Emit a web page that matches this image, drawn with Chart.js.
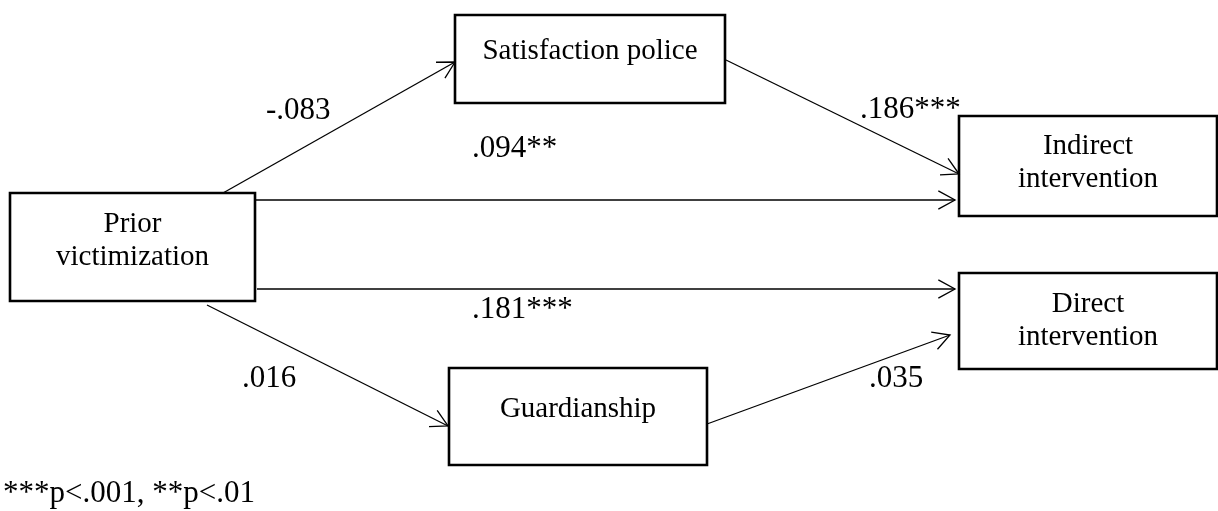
<!DOCTYPE html>
<html>
<head>
<meta charset="utf-8">
<script src="https://cdn.jsdelivr.net/npm/chart.js@4"></script>
<style>
html,body{margin:0;padding:0;background:#fff;overflow:hidden}
#c{display:block}
</style>
</head>
<body>
<canvas id="c" width="1218" height="511"></canvas>
<script>
// variables in the path model
const nodeNames = [['Prior','victimization'], ['Satisfaction police'], ['Indirect','intervention'], ['Direct','intervention'], ['Guardianship']];
// path coefficients (from -> to)
const pathFrom = [0, 1, 0, 0, 0, 4];
const pathTo   = [1, 2, 2, 3, 4, 3];
const pathCoef = ['-.083', '.186***', '.094**', '.181***', '.016', '.035'];
const footnote = '***p<.001, **p<.01';

// layout, in the chart's own x/y units
const boxL = [10, 455, 959, 959, 449];
const boxT = [193, 15, 116, 273, 368];
const boxR = [255, 725, 1217, 1217, 707];
const boxB = [301, 103, 216, 369, 465];
const textY = [[232, 265], [59], [154, 187], [312, 345], [417]];
const pathStart = [[223,193], [726,60], [255,200], [257,289], [207,305], [707,424]];
const pathEnd   = [[455,62], [959,174], [955,200], [955,289], [448,426], [950,335]];
const coefPos   = [[266,119], [860,118], [472,157], [472,318], [242,387], [869,387]];

const SERIF = '"Liberation Serif", "Times New Roman", serif';

const datasets = [];
boxL.forEach((l, i) => {
  datasets.push({ data: [{x:l,y:boxT[i]},{x:boxR[i],y:boxT[i]},{x:boxR[i],y:boxB[i]},{x:l,y:boxB[i]},{x:l,y:boxT[i]},{x:boxR[i],y:boxT[i]}],
    showLine:true, borderColor:'#000', borderWidth:2.6, borderJoinStyle:'miter', borderCapStyle:'square',
    pointRadius:0, fill:false, tension:0 });
});
pathFrom.forEach((f, i) => {
  datasets.push({ data: [{x:pathStart[i][0],y:pathStart[i][1]},{x:pathEnd[i][0],y:pathEnd[i][1]}],
    showLine:true, borderColor:'#000', borderWidth:1.3, pointRadius:0, fill:false });
});

const textPlugin = {
  id:'diagramText',
  afterDatasetsDraw(chart){
    const {ctx, scales:{x, y}} = chart;
    ctx.save();
    // arrow heads
    ctx.strokeStyle = '#000'; ctx.lineWidth = 1.3;
    pathEnd.forEach((e, i) => {
      const x0 = x.getPixelForValue(pathStart[i][0]), y0 = y.getPixelForValue(pathStart[i][1]);
      const x1 = x.getPixelForValue(e[0]), y1 = y.getPixelForValue(e[1]);
      const a = Math.atan2(y1 - y0, x1 - x0), len = 19, sp = 0.5;
      ctx.beginPath();
      ctx.moveTo(x1 - len*Math.cos(a - sp), y1 - len*Math.sin(a - sp));
      ctx.lineTo(x1, y1);
      ctx.lineTo(x1 - len*Math.cos(a + sp), y1 - len*Math.sin(a + sp));
      ctx.stroke();
    });
    ctx.fillStyle = '#000';
    ctx.textBaseline = 'alphabetic';
    // node names
    ctx.font = '29px ' + SERIF; ctx.textAlign = 'center';
    nodeNames.forEach((lines, i) => {
      const cx = x.getPixelForValue((boxL[i] + boxR[i]) / 2);
      lines.forEach((t, j) => ctx.fillText(t, cx, y.getPixelForValue(textY[i][j])));
    });
    // coefficients
    ctx.font = '31px ' + SERIF; ctx.textAlign = 'left';
    pathCoef.forEach((t, i) => ctx.fillText(t, x.getPixelForValue(coefPos[i][0]), y.getPixelForValue(coefPos[i][1])));
    ctx.fillText(footnote, x.getPixelForValue(3), y.getPixelForValue(502));
    ctx.restore();
  }
};

new Chart(document.getElementById('c'), {
  type:'scatter',
  data:{ datasets },
  options:{
    responsive:false, animation:false, devicePixelRatio:1,
    layout:{ padding:0 },
    plugins:{ legend:{display:false}, tooltip:{enabled:false} },
    scales:{
      x:{ type:'linear', min:0, max:1218, display:false },
      y:{ type:'linear', min:0, max:511, reverse:true, display:false }
    }
  },
  plugins:[textPlugin]
});
</script>
</body>
</html>
